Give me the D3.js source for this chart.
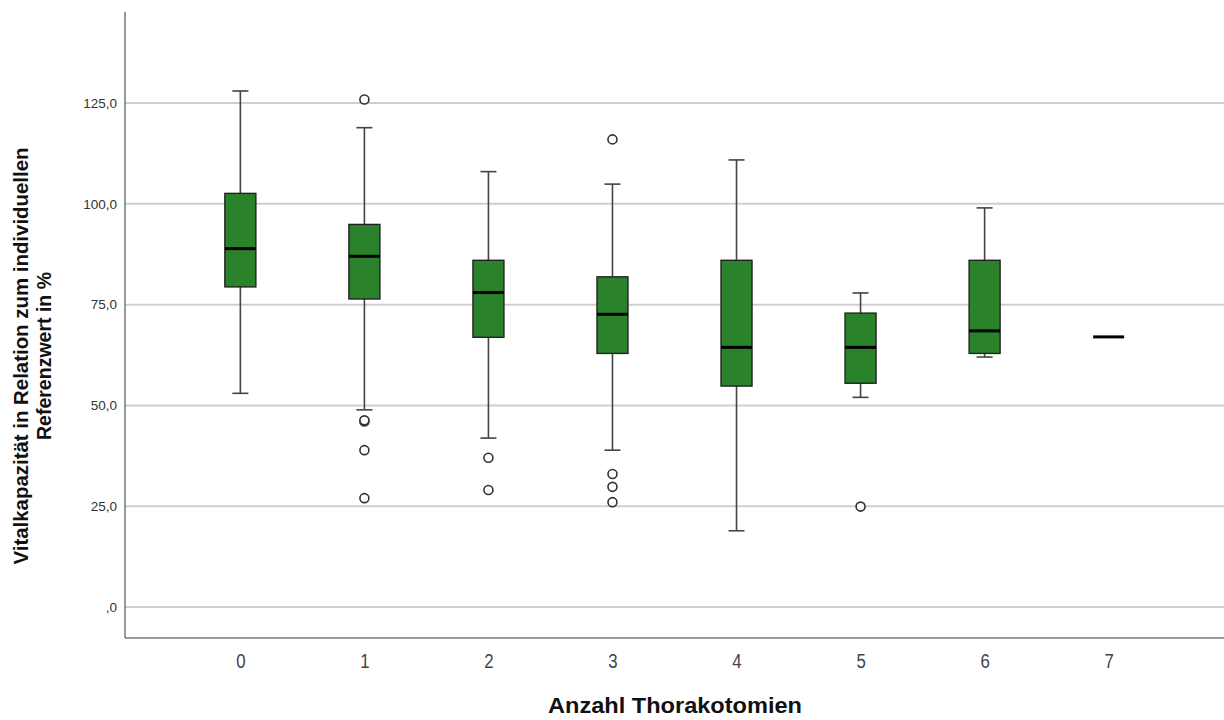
<!DOCTYPE html>
<html>
<head>
<meta charset="utf-8">
<script src="https://cdn.jsdelivr.net/npm/d3@7"></script>
<style>
  body { margin: 0; background: #fff; }
  text { font-family: "Liberation Sans", Arial, sans-serif; }
</style>
</head>
<body>
<svg id="chart" width="1224" height="720"></svg>
<script>
// Data
const categories = ["0", "1", "2", "3", "4", "5", "6", "7"];
const whiskerLow = [53.0, 48.9, 41.9, 38.9, 18.9, 52.0, 62.0, 67.0];
const q1 = [79.4, 76.4, 66.9, 62.9, 54.8, 55.5, 62.9, 67.0];
const median = [88.9, 87.0, 78.0, 72.6, 64.4, 64.4, 68.5, 67.0];
const q3 = [102.6, 94.9, 86.0, 81.9, 86.0, 72.9, 86.0, 67.0];
const whiskerHigh = [128.0, 118.9, 108.0, 104.9, 110.9, 77.9, 99.0, 67.0];
const outliers = [
  [],
  [125.9, 46.0, 46.3, 38.9, 27.0],
  [37.0, 29.0],
  [116.0, 33.0, 29.8, 26.0],
  [],
  [24.9],
  [],
  []
];
const yTicks = [0, 25, 50, 75, 100, 125];

const boxes = categories.map((c, i) => ({
  cat: c, lo: whiskerLow[i], q1: q1[i], med: median[i], q3: q3[i], hi: whiskerHigh[i],
  out: outliers[i], single: whiskerLow[i] === whiskerHigh[i]
}));

const svg = d3.select("#chart");
const mLeft = 125, mRight = 1224, mTop = 12, mBottom = 638;

const x = d3.scalePoint().domain(categories).range([mLeft, mRight]).padding(0.93);
const y = d3.scaleLinear().domain([-7.7, 147.6]).range([mBottom, mTop]);

const boxW = 31, capW = 16;

// gridlines
svg.append("g")
  .selectAll("line")
  .data(yTicks)
  .join("line")
  .attr("x1", mLeft).attr("x2", mRight)
  .attr("y1", d => y(d)).attr("y2", d => y(d))
  .attr("stroke", "#cfcfcf")
  .attr("stroke-width", 2);

// y axis
const yAxis = d3.axisLeft(y)
  .tickValues(yTicks)
  .tickSize(0)
  .tickPadding(8)
  .tickFormat(d => d === 0 ? ",0" : d3.format(".1f")(d).replace(".", ","));
const gy = svg.append("g").attr("transform", `translate(${mLeft},0)`).call(yAxis);
gy.select(".domain").remove();
gy.selectAll("text").attr("font-size", 13.5).attr("fill", "#333");

// x axis
const xAxis = d3.axisBottom(x).tickSize(0).tickPadding(15);
const gx = svg.append("g").attr("transform", `translate(0,${mBottom})`).call(xAxis);
gx.select(".domain").remove();
gx.selectAll("text")
  .attr("font-size", 21).attr("fill", "#444")
  .attr("transform", "scale(0.8,1)");

// axis lines
svg.append("line").attr("x1", mLeft).attr("x2", mLeft).attr("y1", mTop).attr("y2", mBottom)
  .attr("stroke", "#777").attr("stroke-width", 1.5);
svg.append("line").attr("x1", mLeft).attr("x2", mRight).attr("y1", mBottom).attr("y2", mBottom)
  .attr("stroke", "#777").attr("stroke-width", 1.5);

// boxes
const g = svg.append("g")
  .selectAll("g")
  .data(boxes)
  .join("g")
  .attr("transform", d => `translate(${x(d.cat)},0)`);

const multi = g.filter(d => !d.single);

// whiskers
multi.append("line")
  .attr("x1", 0).attr("x2", 0)
  .attr("y1", d => y(d.hi)).attr("y2", d => y(d.lo))
  .attr("stroke", "#444").attr("stroke-width", 1.6);
multi.selectAll(".cap")
  .data(d => [d.lo, d.hi])
  .join("line")
  .attr("class", "cap")
  .attr("x1", -capW / 2).attr("x2", capW / 2)
  .attr("y1", v => y(v)).attr("y2", v => y(v))
  .attr("stroke", "#444").attr("stroke-width", 1.6);

multi.append("rect")
  .attr("x", -boxW / 2)
  .attr("width", boxW)
  .attr("y", d => y(d.q3))
  .attr("height", d => y(d.q1) - y(d.q3))
  .attr("fill", "#2a832a")
  .attr("stroke", "#222")
  .attr("stroke-width", 1.4);

g.append("line")
  .attr("x1", -boxW / 2).attr("x2", boxW / 2)
  .attr("y1", d => y(d.med)).attr("y2", d => y(d.med))
  .attr("stroke", "#000").attr("stroke-width", 3);

// outliers
g.selectAll("circle")
  .data(d => d.out)
  .join("circle")
  .attr("cx", 0)
  .attr("cy", v => y(v))
  .attr("r", 4.5)
  .attr("fill", "#fff")
  .attr("stroke", "#333")
  .attr("stroke-width", 1.6);

// titles
svg.append("text")
  .attr("x", 548).attr("y", 713)
  .attr("font-size", 22).attr("font-weight", "bold").attr("fill", "#111")
  .attr("textLength", 254).attr("lengthAdjust", "spacingAndGlyphs")
  .text("Anzahl Thorakotomien");

const yt = svg.append("text")
  .attr("transform", "translate(28,356) rotate(-90)")
  .attr("text-anchor", "middle")
  .attr("font-size", 20).attr("font-weight", "bold").attr("fill", "#111");
yt.append("tspan").attr("x", 0).attr("dy", 0)
  .attr("textLength", 417).attr("lengthAdjust", "spacingAndGlyphs")
  .text("Vitalkapazität in Relation zum individuellen");
yt.append("tspan").attr("x", 0).attr("dy", 23)
  .attr("textLength", 168).attr("lengthAdjust", "spacingAndGlyphs")
  .text("Referenzwert in %");
</script>
</body>
</html>
